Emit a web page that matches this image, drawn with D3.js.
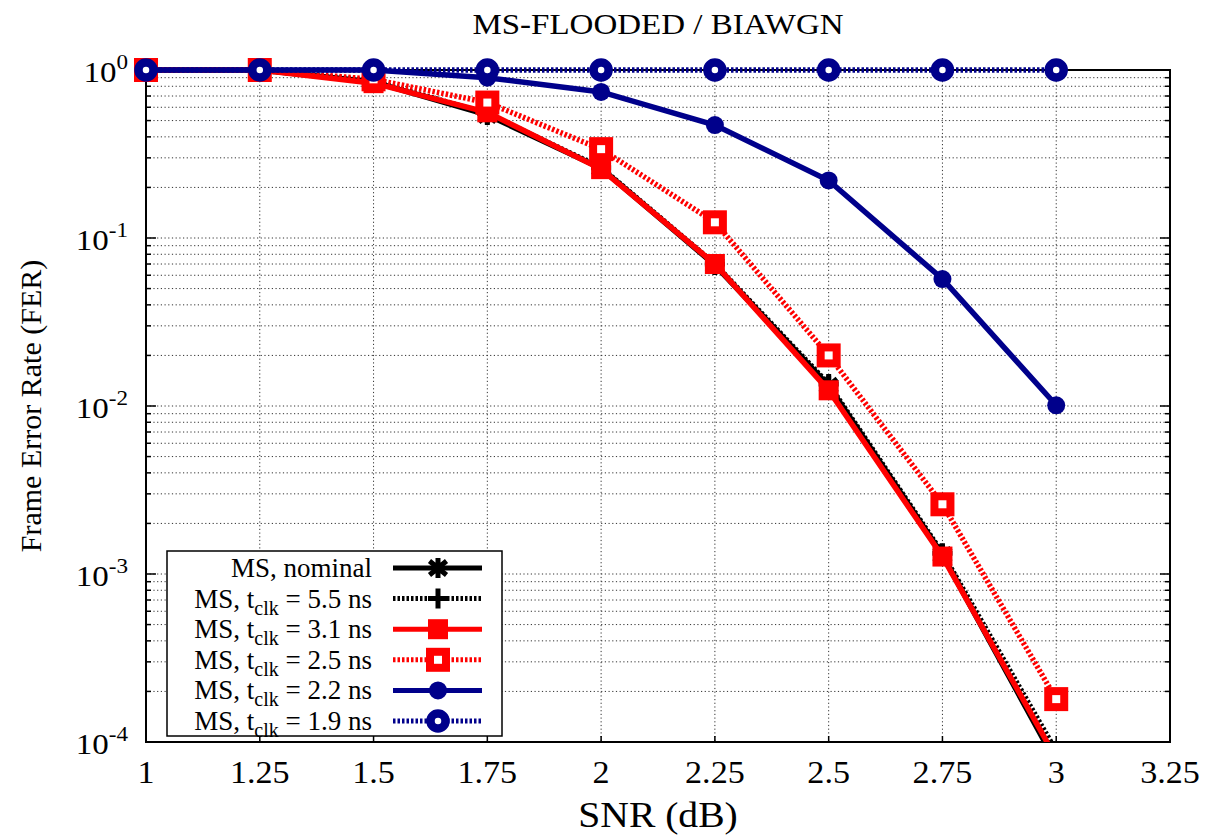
<!DOCTYPE html>
<html>
<head>
<meta charset="utf-8">
<script src="https://cdn.jsdelivr.net/npm/d3@7"></script>
<style>
  body { margin: 0; background: #fff; }
</style>
</head>
<body>
<svg id="chart" width="1205" height="836" font-family="'Liberation Serif', 'Times New Roman', Times, serif"></svg>
<script>
// data
const snr = [1, 1.25, 1.5, 1.75, 2, 2.25, 2.5, 2.75, 3]
const ferNominal = [1, 1, 0.85, 0.54, 0.26, 0.069, 0.0132, 0.0013, 7.5e-5]
const fer55 = [1, 1, 0.86, 0.55, 0.262, 0.07, 0.0135, 0.00133, 8.8e-5]
const fer31 = [1, 1, 0.835, 0.56, 0.257, 0.07, 0.0124, 0.00127, 8e-5]
const fer25 = [1, 1, 0.88, 0.64, 0.338, 0.124, 0.02, 0.0026, 1.8e-4]
const fer22 = [1, 1, 1, 0.9, 0.74, 0.47, 0.22, 0.057, 0.0101]
const fer19 = [1, 1, 1, 1, 1, 1, 1, 1, 1]
const xTicks = [1, 1.25, 1.5, 1.75, 2, 2.25, 2.5, 2.75, 3, 3.25]
const yDecades = [0, -1, -2, -3, -4]

const series = [
  { name: 'nominal', values: ferNominal, color: '#000', dash: null, marker: 'star' },
  { name: '5.5', values: fer55, color: '#000', dash: '2.5,2', marker: 'plus' },
  { name: '3.1', values: fer31, color: '#ff0000', dash: null, marker: 'square' },
  { name: '2.5', values: fer25, color: '#ff0000', dash: '2.5,2', marker: 'hsquare' },
  { name: '2.2', values: fer22, color: '#00008b', dash: null, marker: 'circle' },
  { name: '1.9', values: fer19, color: '#00008b', dash: '2.5,2', marker: 'hcircle' }
]

const pLeft = 146, pRight = 1170, pTop = 70, pBottom = 742
const stretch = 1.1 // text in the picture is a bit wide

const x = d3.scaleLinear().domain([1, 3.25]).range([pLeft, pRight])
const y = d3.scaleLog().domain([1e-4, 1]).range([pBottom, pTop])

const svg = d3.select('svg#chart')

// grid
const minors = []
for (let d = -4; d < 0; d++) {
  for (let m = 1; m < 10; m++) minors.push(m * Math.pow(10, d))
}
minors.push(1)

svg.append('g')
  .selectAll('line')
  .data(minors.filter(v => v > 1e-4 && v < 1))
  .enter()
  .append('line')
  .attr('x1', pLeft).attr('x2', pRight)
  .attr('y1', v => y(v)).attr('y2', v => y(v))
  .attr('stroke', '#333')
  .attr('stroke-width', 1)
  .attr('stroke-dasharray', '1.2,2.5')

svg.append('g')
  .selectAll('line')
  .data(xTicks.filter(v => v > 1 && v < 3.25))
  .enter()
  .append('line')
  .attr('y1', pTop).attr('y2', pBottom)
  .attr('x1', v => x(v)).attr('x2', v => x(v))
  .attr('stroke', '#333')
  .attr('stroke-width', 1)
  .attr('stroke-dasharray', '1.2,2.5')

// ticks inside the frame
const tickG = svg.append('g').attr('stroke', '#000').attr('stroke-width', 1.5)
minors.forEach(v => {
  const major = Math.abs(Math.log10(v) - Math.round(Math.log10(v))) < 1e-9
  const len = major ? 10 : 5
  tickG.append('line').attr('x1', pLeft).attr('x2', pLeft + len).attr('y1', y(v)).attr('y2', y(v))
  tickG.append('line').attr('x1', pRight).attr('x2', pRight - len).attr('y1', y(v)).attr('y2', y(v))
})
xTicks.forEach(v => {
  tickG.append('line').attr('x1', x(v)).attr('x2', x(v)).attr('y1', pBottom).attr('y2', pBottom - 6)
  tickG.append('line').attr('x1', x(v)).attr('x2', x(v)).attr('y1', pTop).attr('y2', pTop + 6)
})

// frame
svg.append('rect')
  .attr('x', pLeft).attr('y', pTop)
  .attr('width', pRight - pLeft).attr('height', pBottom - pTop)
  .attr('fill', 'none')
  .attr('stroke', '#000')
  .attr('stroke-width', 2)

// tick labels
svg.append('g')
  .selectAll('text')
  .data(xTicks)
  .enter()
  .append('text')
  .attr('transform', v => `translate(${x(v)},783) scale(${stretch},1)`)
  .attr('text-anchor', 'middle')
  .attr('font-size', '31px')
  .text(v => v)

const yl = svg.append('g')
  .selectAll('text')
  .data(yDecades)
  .enter()
  .append('text')
  .attr('transform', d => `translate(128,${y(Math.pow(10, d)) + 12}) scale(${stretch},1)`)
  .attr('text-anchor', 'end')
  .attr('font-size', '30px')
yl.append('tspan').text('10')
yl.append('tspan').attr('dy', -13).attr('font-size', '21px').text(d => d)

// titles
svg.append('text')
  .attr('transform', `translate(${(pLeft + pRight) / 2},34) scale(${stretch},1)`)
  .attr('text-anchor', 'middle')
  .attr('font-size', '30px')
  .text('MS-FLOODED / BIAWGN')

svg.append('text')
  .attr('transform', `translate(${(pLeft + pRight) / 2},827) scale(${stretch},1)`)
  .attr('text-anchor', 'middle')
  .attr('font-size', '36px')
  .text('SNR (dB)')

svg.append('text')
  .attr('transform', `translate(41,${(pTop + pBottom) / 2}) rotate(-90)`)
  .attr('text-anchor', 'middle')
  .attr('font-size', '30px')
  .text('Frame Error Rate (FER)')

// markers
function drawMarker(g, type, color, cx, cy) {
  if (type === 'star') {
    const r = 10
    g.append('path')
      .attr('d', `M${cx},${cy - r}L${cx},${cy + r}M${cx - r * 0.85},${cy - r * 0.7}L${cx + r * 0.85},${cy + r * 0.7}M${cx - r * 0.85},${cy + r * 0.7}L${cx + r * 0.85},${cy - r * 0.7}`)
      .attr('stroke', color).attr('stroke-width', 5).attr('fill', 'none')
  } else if (type === 'plus') {
    const r = 10
    g.append('path')
      .attr('d', `M${cx},${cy - r}L${cx},${cy + r}M${cx - r},${cy}L${cx + r},${cy}`)
      .attr('stroke', color).attr('stroke-width', 5).attr('fill', 'none')
  } else if (type === 'square') {
    g.append('rect')
      .attr('x', cx - 10).attr('y', cy - 10).attr('width', 20).attr('height', 20)
      .attr('fill', color)
  } else if (type === 'hsquare') {
    g.append('rect')
      .attr('x', cx - 8).attr('y', cy - 8).attr('width', 16).attr('height', 16)
      .attr('fill', '#fff').attr('stroke', color).attr('stroke-width', 8)
  } else if (type === 'circle') {
    g.append('circle').attr('cx', cx).attr('cy', cy).attr('r', 9).attr('fill', color)
  } else if (type === 'hcircle') {
    g.append('circle').attr('cx', cx).attr('cy', cy).attr('r', 7.5)
      .attr('fill', '#fff').attr('stroke', color).attr('stroke-width', 8.5)
  }
}

svg.append('defs').append('clipPath').attr('id', 'plotClip')
  .append('rect')
  .attr('x', pLeft).attr('y', pTop - 12)
  .attr('width', pRight - pLeft).attr('height', pBottom - pTop + 12)

const line = d3.line()
  .x((v, i) => x(snr[i]))
  .y(v => y(v))

series.forEach(s => {
  const g = svg.append('g')
  g.append('path')
    .datum(s.values)
    .attr('clip-path', 'url(#plotClip)')
    .attr('d', line)
    .attr('fill', 'none')
    .attr('stroke', s.color)
    .attr('stroke-width', 5.5)
    .attr('stroke-dasharray', s.dash)
  s.values.forEach((v, i) => {
    if (v >= 1e-4) drawMarker(g, s.marker, s.color, x(snr[i]), y(v))
  })
})

// legend
const legend = svg.append('g')
legend.append('rect')
  .attr('x', 167).attr('y', 551)
  .attr('width', 335).attr('height', 185)
  .attr('fill', '#fff')
  .attr('stroke', '#000')
  .attr('stroke-width', 1.5)

series.forEach((s, i) => {
  const ly = 568 + i * 30.6
  const t = legend.append('text')
    .attr('x', 372).attr('y', ly + 9)
    .attr('text-anchor', 'end')
    .attr('font-size', '27px')
  if (s.name === 'nominal') {
    t.text('MS, nominal')
  } else {
    t.append('tspan').text('MS, t')
    t.append('tspan').attr('dy', 7).attr('font-size', '20px').text('clk')
    t.append('tspan').attr('dy', -7).text(` = ${s.name} ns`)
  }
  legend.append('line')
    .attr('x1', 393).attr('x2', 482)
    .attr('y1', ly).attr('y2', ly)
    .attr('stroke', s.color)
    .attr('stroke-width', 5)
    .attr('stroke-dasharray', s.dash)
  drawMarker(legend, s.marker, s.color, 438, ly)
})
</script>
</body>
</html>
